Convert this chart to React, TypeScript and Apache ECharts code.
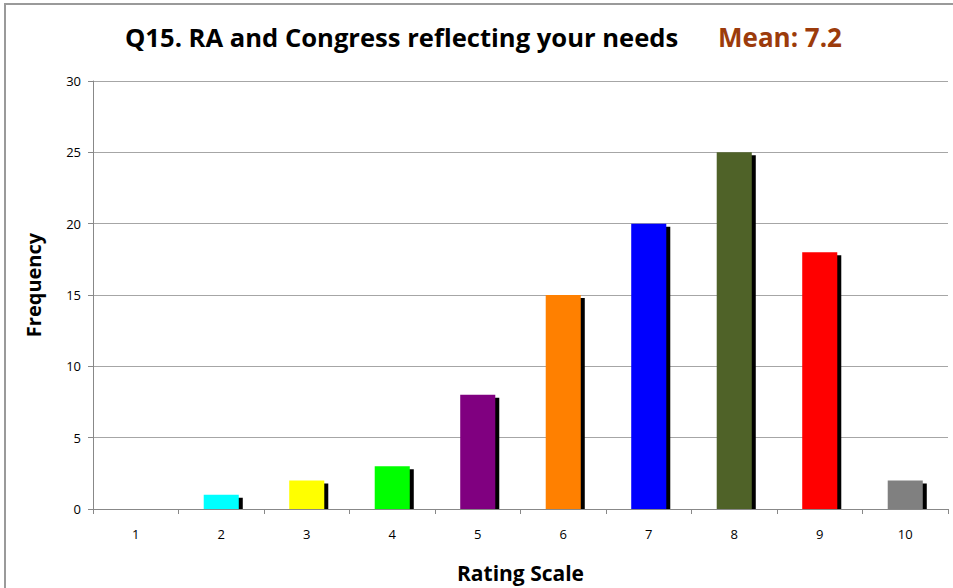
import React, { useEffect, useRef } from "react";
import * as echarts from "echarts";

const categories = ["1", "2", "3", "4", "5", "6", "7", "8", "9", "10"];
const frequencies = [0, 1, 2, 3, 8, 15, 20, 25, 18, 2];
const barColors = ["#7f7f7f", "#00FFFF", "#FFFF00", "#00FF00", "#800080", "#FF8000", "#0000FF", "#4F6228", "#FF0000", "#808080"];
const yTicks = { min: 0, max: 30, interval: 5 };
const titleText = "Q15. RA and Congress reflecting your needs";
const meanText = "Mean: 7.2";

export default function App() {
  const ref = useRef<HTMLDivElement>(null);
  useEffect(() => {
    document.body.style.margin = "0";
    const chart = echarts.init(ref.current!, null, { renderer: "svg" });
    const font = "'Open Sans', Lato, sans-serif";
    chart.setOption({
      animation: false,
      backgroundColor: "#ffffff",
      textStyle: { fontFamily: font },
      title: [
        { text: titleText, left: 125, top: 24, padding: 0, textStyle: { fontSize: 25.6, fontWeight: "bold", color: "#000", fontFamily: font } },
        { text: meanText, left: 718, top: 24, padding: 0, textStyle: { fontSize: 26, fontWeight: "bold", color: "#9C3B0B", fontFamily: font } },
      ],
      graphic: [
        { type: "rect", shape: { x: 5, y: 4, width: 960, height: 600 }, style: { fill: "none", stroke: "#9a9a9a", lineWidth: 2 }, z: -1 },
      ],
      grid: { left: 93, right: 5, top: 81, bottom: 79, containLabel: false, outerBoundsMode: "none" },
      xAxis: {
        type: "category",
        data: categories,
        boundaryGap: true,
        name: "Rating Scale",
        nameLocation: "middle",
        nameGap: 53,
        nameTextStyle: { fontSize: 21, fontWeight: "bold", color: "#000", fontFamily: font },
        axisLine: { lineStyle: { color: "#888888", width: 1 } },
        axisTick: { show: true, alignWithLabel: false, length: 5, lineStyle: { color: "#888888" } },
        axisLabel: { color: "#000", fontSize: 13, margin: 18, fontFamily: font },
      },
      yAxis: {
        type: "value",
        min: yTicks.min,
        max: yTicks.max,
        interval: yTicks.interval,
        name: "Frequency",
        nameLocation: "middle",
        nameGap: 50,
        nameTextStyle: { fontSize: 20, fontWeight: "bold", color: "#000", fontFamily: font, padding: [0, 0, 0, 20] },
        axisLine: { show: true, lineStyle: { color: "#888888", width: 1 } },
        axisTick: { show: true, length: 5, lineStyle: { color: "#888888" } },
        axisLabel: { color: "#000", fontSize: 13, margin: 12, fontFamily: font },
        splitLine: { show: true, lineStyle: { color: "#a6a6a6", width: 1 } },
      },
      series: [
        {
          type: "custom",
          data: frequencies.map((v, i) => [i, v]),
          encode: { x: 0, y: 1 },
          renderItem: (params: any, api: any) => {
            const idx = api.value(0);
            const val = api.value(1);
            if (!val) return null;
            const top = api.coord([idx, val]);
            const base = api.coord([idx, 0]);
            const bw = api.size([1, 0])[0] * 0.41;
            const h = base[1] - top[1];
            return {
              type: "group",
              children: [
                { type: "rect", shape: { x: top[0] - bw / 2 + 4, y: top[1] + 3, width: bw, height: h - 3 }, style: { fill: "#000000" } },
                { type: "rect", shape: { x: top[0] - bw / 2, y: top[1], width: bw, height: h }, style: { fill: barColors[params.dataIndex] } },
              ],
            };
          },
        },
      ],
    });
    return () => chart.dispose();
  }, []);
  return <div ref={ref} style={{ width: 953, height: 588 }} />;
}
